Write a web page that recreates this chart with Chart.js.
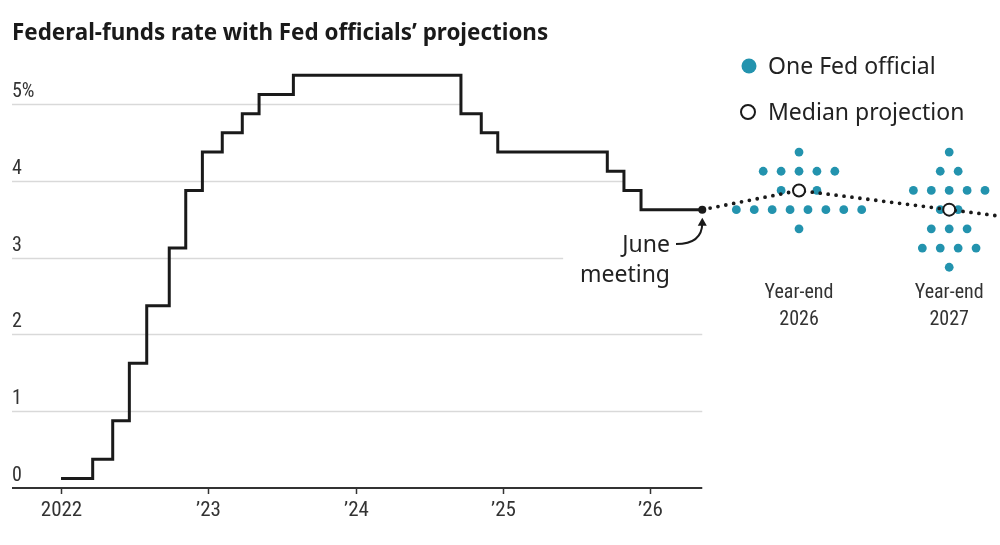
<!DOCTYPE html>
<html lang="en">
<head>
<meta charset="utf-8">
<title>Federal-funds rate with Fed officials' projections</title>
<script src="https://cdn.jsdelivr.net/npm/chart.js@4.4.1/dist/chart.umd.min.js"></script>
<style>
    html, body { margin: 0; padding: 0; background: #fff; }
    #wrap { width: 1000px; height: 545px; }
</style>
</head>
<body>
<div id="wrap"><canvas id="rateChart" width="1000" height="545"></canvas></div>
<script>
// Fed-funds rate (midpoint of target range), one point per change, decimal years
const rateDates = [2022.0, 2022.215, 2022.351, 2022.464, 2022.582, 2022.735, 2022.847, 2022.960,
    2023.095, 2023.231, 2023.345, 2023.578, 2024.716, 2024.854, 2024.966, 2025.710, 2025.823,
    2025.939, 2026.355];
const rateValues = [0.125, 0.375, 0.875, 1.625, 2.375, 3.125, 3.875, 4.375,
    4.625, 4.875, 5.125, 5.375, 4.875, 4.625, 4.375, 4.125, 3.875,
    3.625, 3.625];

// June meeting, then median projections (last one runs off the right edge)
const medianDates = [2026.355, 2027.012, 2028.032, 2029.05];
const medianValues = [3.625, 3.875, 3.625, 3.375];

// Dot plot: rate levels and number of officials at each level
const dotCenters = [2027.012, 2028.032];
const dotLabels = [['Year-end', '2026'], ['Year-end', '2027']];
const dots2026Rates = [4.375, 4.125, 3.875, 3.625, 3.375];
const dots2026Counts = [1, 5, 3, 8, 1];
const dots2027Rates = [4.375, 4.125, 3.875, 3.625, 3.375, 3.125, 2.875];
const dots2027Counts = [1, 2, 5, 2, 3, 4, 1];

// Axis ticks
const yTicks = [0, 1, 2, 3, 4, 5];
const yTickLabels = ['0', '1', '2', '3', '4', '5%'];
const xTicks = [2022, 2023, 2024, 2025, 2026];
const xTickLabels = ['2022', '\u201923', '\u201924', '\u201925', '\u201926'];

// 样式
const TEAL = '#2393ae';
const INK = '#1a1a1a';
const GRID = '#d9d9d9';
const NARROW = '"Liberation Sans Narrow", "Roboto Condensed", "DejaVu Sans Condensed", sans-serif';
const SANS = '"Noto Sans", "Open Sans", sans-serif';
const DOT_STEP = 0.1216;          // horizontal gap between dots, in years
const GRID_END = [2026.355, 2026.355, 2026.355, 2025.41, 2025.823, 2024.716];

// 把每一行的点摊开
function buildDots(center, rates, counts) {
    const pts = [];
    rates.forEach((r, k) => {
        const n = counts[k];
        for (let i = 0; i < n; i++) {
            pts.push({ x: center + (i - (n - 1) / 2) * DOT_STEP, y: r });
        }
    });
    return pts;
}

const ratePoints = rateDates.map((d, i) => ({ x: d, y: rateValues[i] }));
const medianPoints = medianDates.map((d, i) => ({ x: d, y: medianValues[i] }));
const dotPoints = buildDots(dotCenters[0], dots2026Rates, dots2026Counts)
    .concat(buildDots(dotCenters[1], dots2027Rates, dots2027Counts));

// 轴、网格、文字
const decorations = {
    id: 'decorations',
    beforeDatasetsDraw(chart) {
        const { ctx, scales: { x, y } } = chart;
        const left = chart.chartArea.left;
        ctx.save();

        // gridlines
        ctx.strokeStyle = GRID;
        ctx.lineWidth = 1.5;
        yTicks.forEach((t, i) => {
            if (t === 0) return;
            const py = Math.round(y.getPixelForValue(t)) + 0.5;
            ctx.beginPath();
            ctx.moveTo(left, py);
            ctx.lineTo(x.getPixelForValue(GRID_END[i]), py);
            ctx.stroke();
        });

        // y labels sit above their lines
        ctx.fillStyle = '#333';
        ctx.font = '20px ' + NARROW;
        ctx.textAlign = 'left';
        ctx.textBaseline = 'alphabetic';
        yTicks.forEach((t, i) => {
            ctx.fillText(yTickLabels[i], left, y.getPixelForValue(t) - 7);
        });

        // x axis
        const base = y.getPixelForValue(0);
        ctx.strokeStyle = '#333';
        ctx.lineWidth = 2;
        ctx.beginPath();
        ctx.moveTo(left, base);
        ctx.lineTo(x.getPixelForValue(GRID_END[0]), base);
        ctx.stroke();
        ctx.lineWidth = 1.5;
        ctx.font = '21px ' + NARROW;
        ctx.textAlign = 'center';
        xTicks.forEach((t, i) => {
            const px = Math.round(x.getPixelForValue(t)) + 0.5;
            ctx.beginPath();
            ctx.moveTo(px, base);
            ctx.lineTo(px, base + 6);
            ctx.stroke();
            ctx.fillText(xTickLabels[i], px, base + 28);
        });

        // column labels under the dots
        ctx.font = '20px ' + NARROW;
        dotCenters.forEach((c, i) => {
            const px = x.getPixelForValue(c);
            ctx.fillText(dotLabels[i][0], px, 298);
            ctx.fillText(dotLabels[i][1], px, 325);
        });

        // title
        ctx.fillStyle = INK;
        ctx.textAlign = 'left';
        ctx.font = 'bold 22.4px ' + SANS;
        ctx.fillText('Federal-funds rate with Fed officials\u2019 projections', 12, 40);

        // legend
        ctx.font = '23px ' + SANS;
        ctx.fillStyle = '#222';
        ctx.fillText('One Fed official', 768, 74);
        ctx.fillText('Median projection', 768, 120);
        ctx.fillStyle = TEAL;
        ctx.beginPath();
        ctx.arc(749, 66, 7.5, 0, Math.PI * 2);
        ctx.fill();
        ctx.strokeStyle = INK;
        ctx.lineWidth = 2;
        ctx.fillStyle = '#fff';
        ctx.beginPath();
        ctx.arc(748, 112, 7, 0, Math.PI * 2);
        ctx.fill();
        ctx.stroke();

        // June meeting note with arrow
        const jx = x.getPixelForValue(medianDates[0]);
        const jy = y.getPixelForValue(medianValues[0]);
        ctx.fillStyle = '#222';
        ctx.textAlign = 'right';
        ctx.fillText('June', 670, 252);
        ctx.fillText('meeting', 670, 282);
        ctx.lineWidth = 2;
        ctx.beginPath();
        ctx.moveTo(676, 244);
        ctx.bezierCurveTo(692, 244, jx, 238, jx, jy + 13);
        ctx.stroke();
        ctx.fillStyle = INK;
        ctx.beginPath();
        ctx.moveTo(jx, jy + 8);
        ctx.lineTo(jx - 4.5, jy + 16);
        ctx.lineTo(jx + 4.5, jy + 16);
        ctx.closePath();
        ctx.fill();

        ctx.restore();
    }
};

new Chart(document.getElementById('rateChart'), {
    type: 'line',
    data: {
        datasets: [
            {
                // dotted median path, on top
                data: medianPoints,
                borderColor: INK,
                borderWidth: 3.8,
                borderDash: [0, 8],
                borderCapStyle: 'round',
                pointRadius: [4, 6, 6, 0],
                pointBackgroundColor: [INK, '#fff', '#fff', '#fff'],
                pointBorderColor: INK,
                pointBorderWidth: [0, 2, 2, 0],
                tension: 0
            },
            {
                // one dot per official
                data: dotPoints,
                showLine: false,
                pointRadius: 4.4,
                pointBackgroundColor: TEAL,
                pointBorderWidth: 0
            },
            {
                // actual rate
                data: ratePoints,
                stepped: true,
                borderColor: INK,
                borderWidth: 3,
                borderJoinStyle: 'miter',
                pointRadius: 0,
                fill: false
            }
        ]
    },
    options: {
        responsive: false,
        animation: false,
        layout: { autoPadding: false, padding: { top: 58, bottom: 57, left: 12, right: 0 } },
        plugins: {
            legend: { display: false },
            tooltip: { enabled: false }
        },
        scales: {
            x: { type: 'linear', display: false, min: 2021.667, max: 2028.377 },
            y: { display: false, min: 0, max: 5.6 }
        }
    },
    plugins: [decorations]
});
</script>
</body>
</html>
